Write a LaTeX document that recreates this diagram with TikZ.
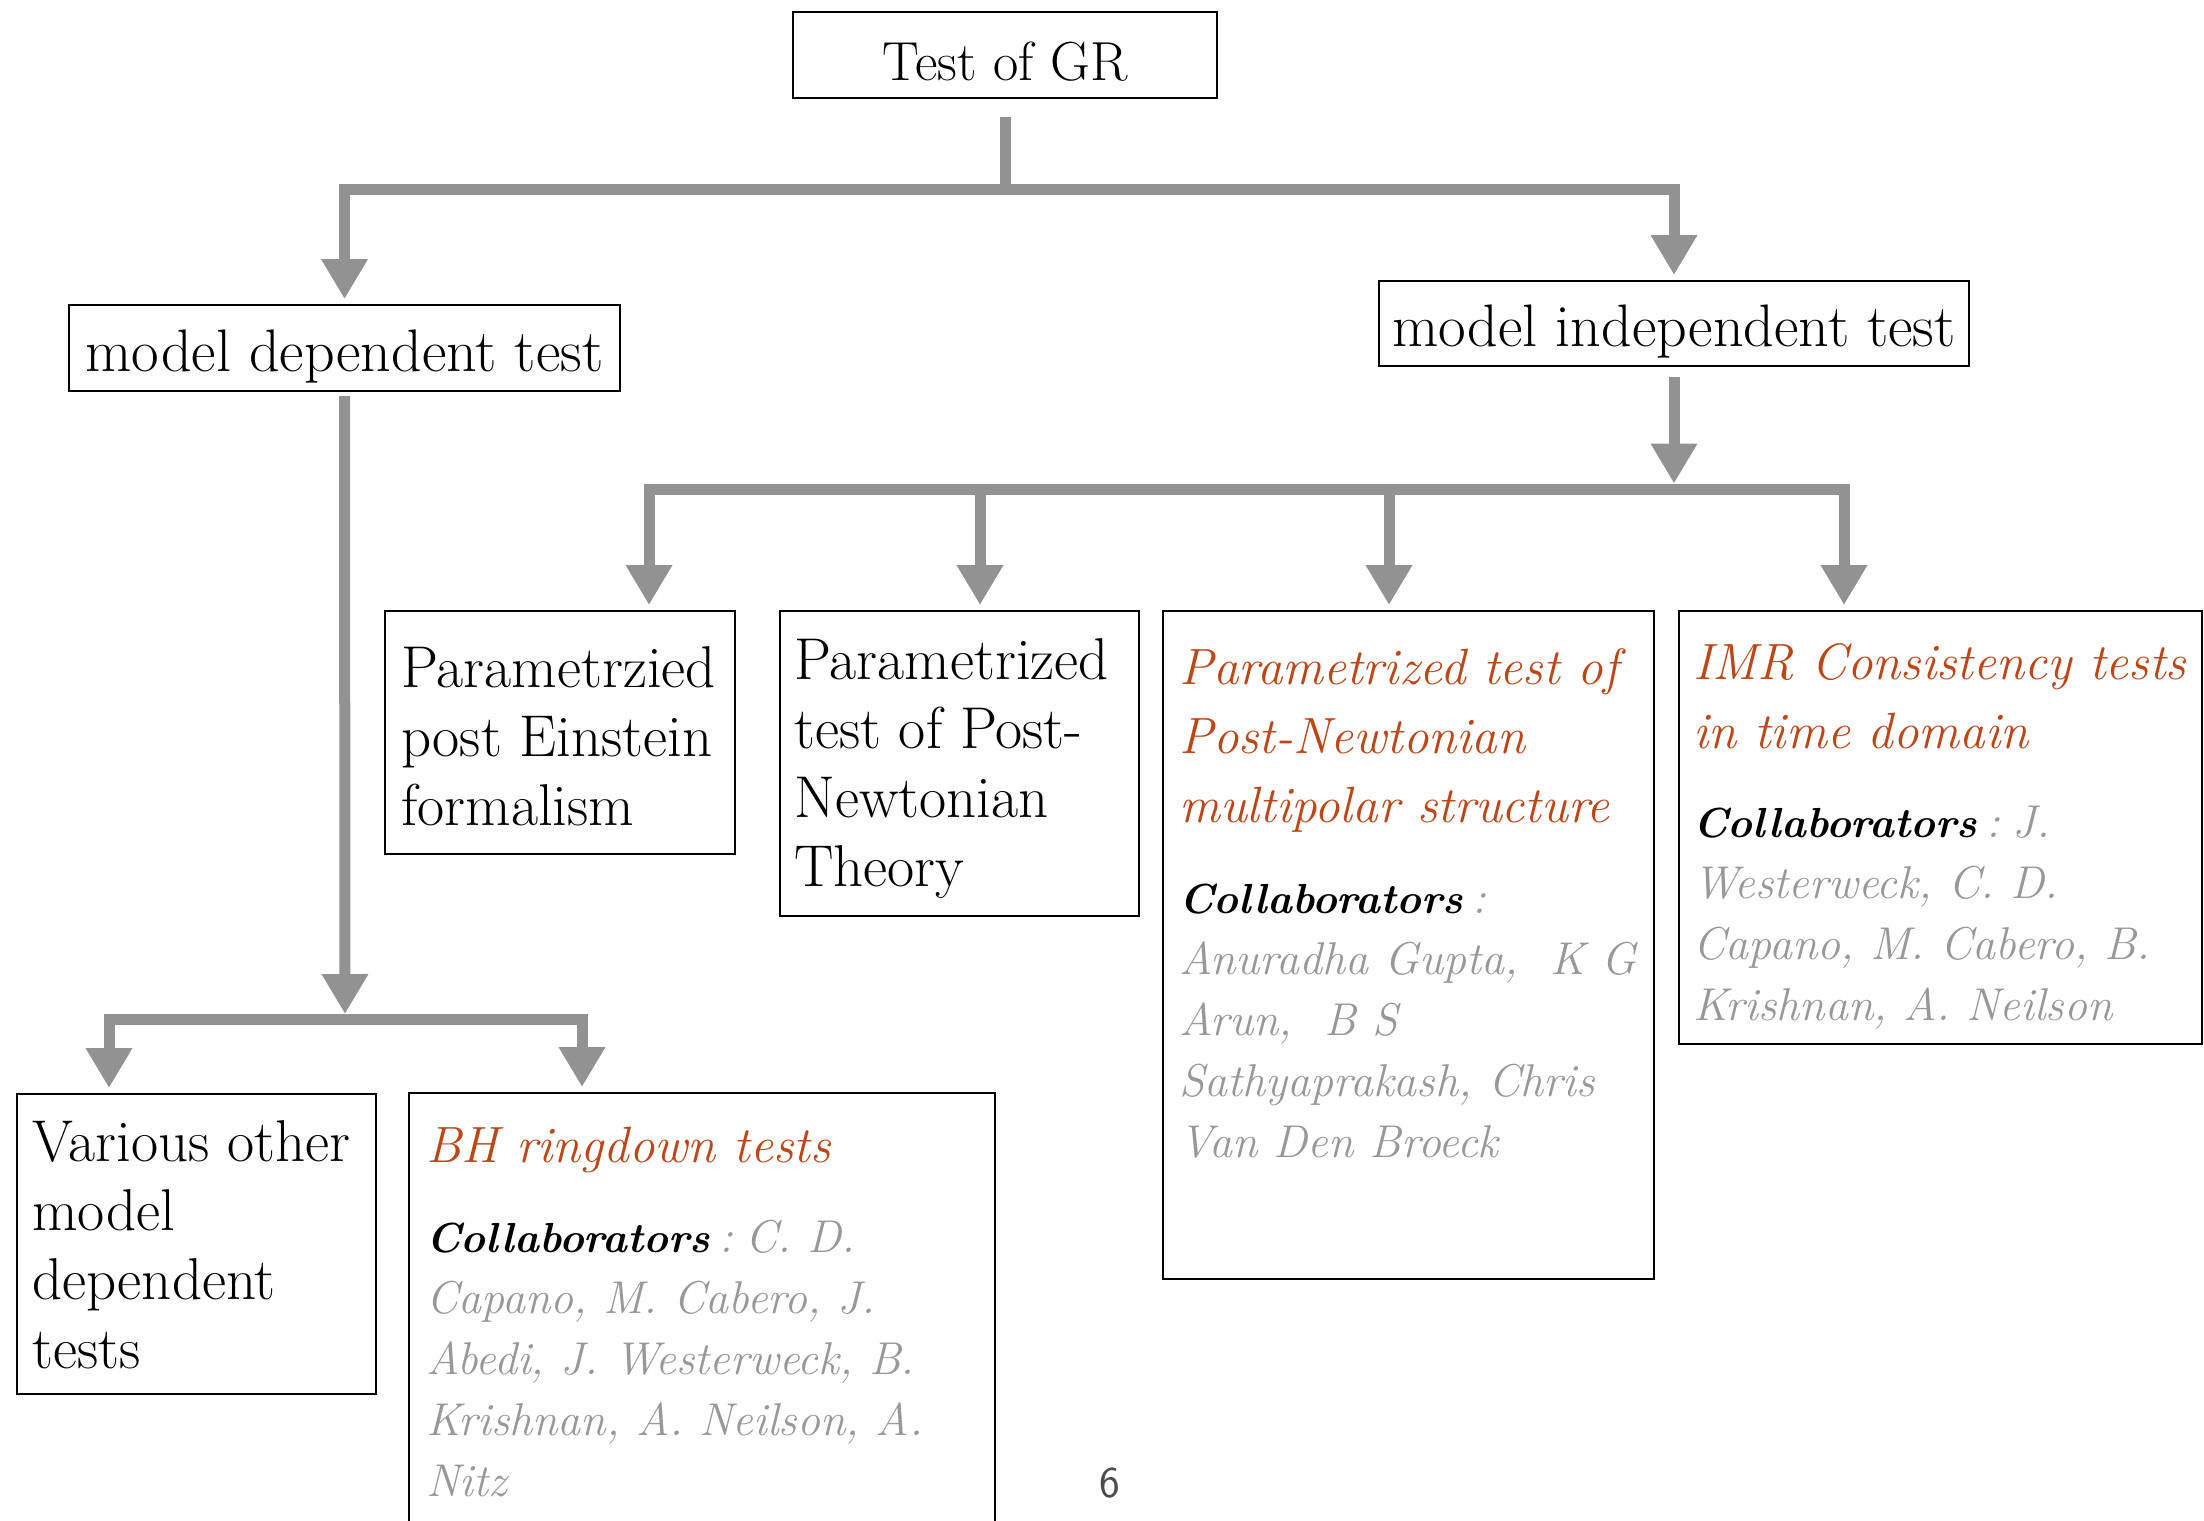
\documentclass[tikz,border=0pt]{standalone}
\usetikzlibrary{arrows.meta}
\definecolor{connc}{RGB}{146,146,146}
\definecolor{ttlc}{RGB}{190,70,22}
\definecolor{gryc}{RGB}{152,152,152}
\newcommand{\firstl}[1]{\rule{0pt}{#1}}
\newcommand{\collab}{{\color{black}\fontsize{42}{61}\selectfont\bfseries Collaborators}\hspace{10pt}:}
\begin{document}
\begin{tikzpicture}[x=1pt,y=-1pt,
  boxst/.style={draw=black,line width=2.8pt,inner sep=0pt,outer sep=0pt,anchor=north west},
  cline/.style={draw=connc,line width=11pt,line join=miter,line cap=butt},
  arrowline/.style={cline,-{Triangle[length=40pt,width=44pt]},shorten >=6pt},
  headtxt/.style={inner sep=0pt,anchor=base,font=\fontsize{60}{69}\selectfont},
  bodytxt/.style={inner sep=0pt,anchor=north west,align=left,font=\fontsize{59}{69}\selectfont},
  ttltxt/.style={inner sep=0pt,anchor=north west,align=left,text=ttlc,font=\fontsize{51}{69}\selectfont\itshape},
  coltxt/.style={inner sep=0pt,anchor=north west,align=left,text=gryc,font=\fontsize{46}{61}\selectfont\itshape}
]
\useasboundingbox (0,0) rectangle (2204,1521);

% boxes
\node[boxst,minimum width=424pt,minimum height=86pt] (gr) at (793,12) {};
\node[boxst,minimum width=551pt,minimum height=86pt] (mdep) at (69,305) {};
\node[boxst,minimum width=590pt,minimum height=85pt] (mind) at (1379,281) {};
\node[boxst,minimum width=350pt,minimum height=243pt] (ppe) at (385,611) {};
\node[boxst,minimum width=359pt,minimum height=305pt] (pn) at (780,611) {};
\node[boxst,minimum width=491pt,minimum height=668pt] (mp) at (1163,611) {};
\node[boxst,minimum width=523pt,minimum height=433pt] (imr) at (1679,611) {};
\node[boxst,minimum width=359pt,minimum height=300pt] (var) at (17,1094) {};
\node[boxst,minimum width=586pt,minimum height=470pt] (bh) at (409,1093) {};

% texts
\node[headtxt,font=\fontsize{55}{69}\selectfont] (grt) at (1005,80) {Test of GR};
\node[headtxt] (mdept) at (344.5,371) {model dependent test};
\node[headtxt] (mindt) at (1674,346) {model independent test};

\node[bodytxt] (ppet) at (401,643) {\firstl{44pt}Parametrzied\\post Einstein\\formalism};
\node[bodytxt] (pnt) at (794,635) {\firstl{44pt}Parametrized\\test of Post-\\Newtonian\\Theory};
\node[bodytxt] (vart) at (32,1117) {\firstl{44pt}Various other\\model\\dependent\\tests};

\node[ttltxt] (mptt) at (1179,646) {\firstl{38pt}Parametrized test of\\Post-Newtonian\\multipolar structure};
\node[ttltxt] (imrtt) at (1693,641) {\firstl{38pt}IMR Consistency tests\\in time domain};
\node[ttltxt] (bhtt) at (426,1124) {\firstl{38pt}BH ringdown tests};

\node[coltxt] (mpc) at (1179,879) {\firstl{34pt}\collab\\Anuradha Gupta,\ \ K G\\Arun,\ \ B S\\Sathyaprakash, Chris\\Van Den Broeck};
\node[coltxt] (imrc) at (1693,803) {\firstl{34pt}\collab\hspace{12pt}J.\\Westerweck, C. D.\\Capano, M. Cabero, B.\\Krishnan, A. Neilson};
\node[coltxt] (bhc) at (426,1218) {\firstl{34pt}\collab\hspace{12pt}C. D.\\Capano, M. Cabero, J.\\Abedi, J. Westerweck, B.\\Krishnan, A. Neilson, A.\\Nitz};

\node[inner sep=0pt,text=black!70,font=\sffamily\fontsize{44}{50}\selectfont] (pg) at (1110,1483) {6};

% connectors
\coordinate (j1) at (1005.5,189);
\draw[cline] ([yshift=-19pt]gr.south) -- (gr.south |- j1);
\draw[arrowline] (j1) -| (mdep.north);
\draw[arrowline] (j1) -| (mind.north);

\coordinate (j2) at (1674,489);
\draw[arrowline,shorten >=5.5pt] ([yshift=-11pt]mind.south) -- (j2);
\draw[arrowline] (j2) -| ([xshift=89pt]ppe.north);
\draw[arrowline] (j2) -| ([xshift=20.5pt]pn.north);
\draw[arrowline] (j2) -| ([xshift=-19.5pt]mp.north);
\draw[arrowline] (j2) -| ([xshift=-96.5pt]imr.north);

\coordinate (j3) at (345,1019.5);
\draw[arrowline,shorten >=5.5pt] ([yshift=-5pt]mdep.south) -- (j3);
\draw[arrowline] (j3) -| ([xshift=-87.5pt]var.north);
\draw[arrowline] (j3) -| ([xshift=-120pt]bh.north);
\end{tikzpicture}
\end{document}
